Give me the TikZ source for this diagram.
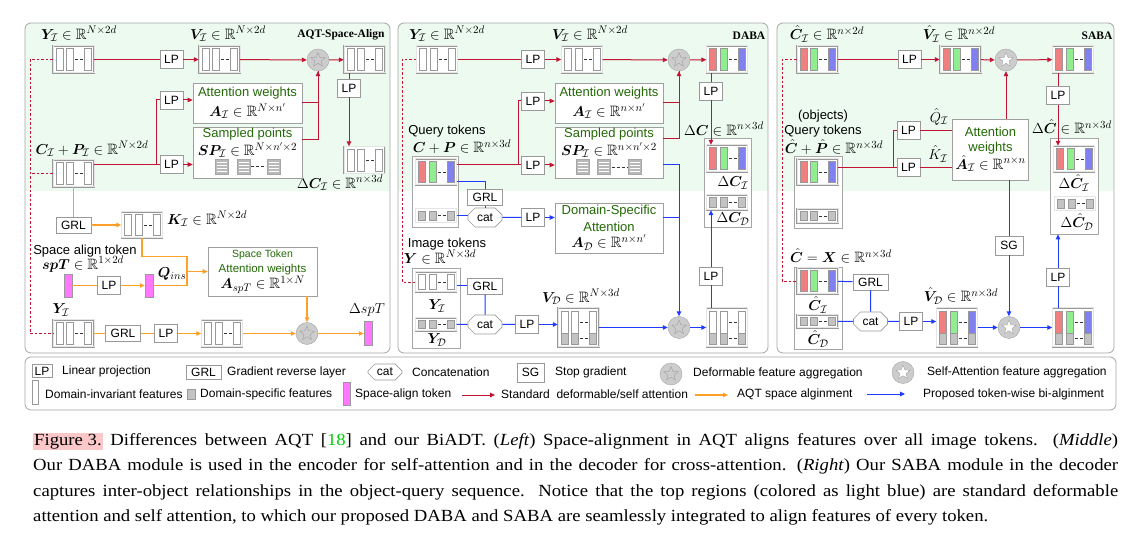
\documentclass[tikz,border=0pt]{standalone}
\usepackage{amsmath,amssymb,bm}
\usepackage{fontspec}
\setmainfont{Liberation Serif}
\newfontfamily\lsans{Liberation Sans}
\newfontfamily\capfont[FakeStretch=1.1]{Liberation Serif}
\usetikzlibrary{arrows.meta,shapes.geometric,shapes.misc}

\definecolor{bggreen}{RGB}{236,250,240}
\definecolor{lnred}{RGB}{192,20,50}
\definecolor{lnora}{RGB}{255,160,40}
\definecolor{lnblue}{RGB}{30,60,255}
\definecolor{txgreen}{RGB}{35,105,5}
\definecolor{tkred}{RGB}{240,128,128}
\definecolor{tkgreen}{RGB}{144,238,144}
\definecolor{tkblue}{RGB}{128,128,240}
\definecolor{tkgray}{RGB}{195,195,195}
\definecolor{tkpink}{RGB}{255,120,255}
\definecolor{hlpink}{RGB}{250,200,200}
\definecolor{refgreen}{RGB}{0,210,0}

\tikzset{
  panel/.style={draw=gray!70, line width=0.8pt, rounded corners=6pt},
  tokframe/.style={draw=gray!80, double=gray!20, double distance=1pt, fill=white, minimum width=41pt, inner sep=0},
  bar/.style={draw=gray!80, line width=0.5pt},
  tkdash/.style={draw=black!80, line width=0.5pt, dash pattern=on 3pt off 2pt},
  box/.style={draw=gray!80, fill=white, inner sep=0, line width=0.7pt, font=\lsans\fontsize{12}{14}\selectfont},
  lp/.style={box, minimum width=23pt, minimum height=18pt},
  grl/.style={box, minimum width=35pt, minimum height=16pt},
  sg/.style={box, minimum width=28pt, minimum height=19pt},
  cat/.style={box, chamfered rectangle, chamfered rectangle xsep=4pt, minimum width=34pt, minimum height=19pt},
  cont/.style={draw=gray!70, fill=white, inner sep=0, line width=0.7pt},
  att/.style={draw=gray!75, fill=white, inner sep=0, align=center, line width=0.7pt},
  mlab/.style={inner sep=0, font=\fontsize{15}{17}\selectfont},
  slab/.style={inner sep=0, font=\lsans\fontsize{13}{15}\selectfont},
  ttl/.style={inner sep=0, font=\bfseries\fontsize{11.5}{13}\selectfont},
  leg/.style={anchor=west, inner sep=0, font=\lsans\fontsize{12}{14}\selectfont},
  aggc/.style={circle, draw=gray!70, fill=gray!40, minimum size=22pt, inner sep=0},
  aggs/.style={star, star points=5, star point ratio=2.3, draw=gray!75, minimum size=15pt, inner sep=0},
  ra/.style={draw=lnred, line width=1pt},
  rarr/.style={ra, -{Triangle[length=5pt,width=4.5pt]}},
  rdash/.style={draw=lnred, line width=0.8pt, dash pattern=on 2.5pt off 2pt},
  oa/.style={draw=lnora, line width=1.1pt},
  oarr/.style={oa, -{Triangle[length=5pt,width=4.5pt]}},
  ba/.style={draw=lnblue, line width=1pt},
  barr/.style={ba, -{Triangle[length=5pt,width=4.5pt]}},
}

% token sequence: name, x, y, height, three bar colours
\newcommand{\tok}[7]{%
  \node[tokframe, minimum height=#4pt] (#1) at (#2,#3) {};
  \draw[bar, fill=#5] ({#2-17.5},{#3-#4/2+2.5}) rectangle ({#2-10.5},{#3+#4/2-2.5});
  \draw[bar, fill=#6] ({#2-7},{#3-#4/2+2.5}) rectangle ({#2},{#3+#4/2-2.5});
  \draw[bar, fill=#7] ({#2+11},{#3-#4/2+2.5}) rectangle ({#2+18},{#3+#4/2-2.5});
  \draw[tkdash] ({#2+1.5},#3) -- ({#2+10},#3);
}
% mixed invariant/specific tokens
\newcommand{\mix}[6]{%
  \node[tokframe, minimum height=39pt] (#1) at (#2,#3) {};
  \foreach \dx/\bc in {-17.5/#4,-7/#5,11/#6}{
    \draw[bar, fill=\bc] ({#2+\dx},{#3-16.5}) rectangle ({#2+\dx+7},{#3+5.5});
    \draw[bar, fill=tkgray] ({#2+\dx},{#3+5.5}) rectangle ({#2+\dx+7},{#3+16.5});}
  \draw[tkdash] ({#2+1.5},{#3-5.5}) -- ({#2+10},{#3-5.5});
  \draw[tkdash] ({#2+1.5},{#3+11}) -- ({#2+10},{#3+11});
}
\newcommand{\hatch}[2]{%
  \draw[draw=gray!70, fill=gray!55] ({#1-6.5},{#2-7.5}) rectangle ({#1+6.5},{#2+7.5});
  \foreach \k in {-4.5,-1.5,1.5,4.5}
    \draw[white, line width=0.6pt] ({#1-5},{#2+\k}) -- ({#1+5},{#2+\k});
}
\newcommand{\defstar}[3]{\node[aggc] (#1) at (#2,#3) {}; \node[aggs, fill=gray!40] (#1s) at (#1) {};}
\newcommand{\selfstar}[3]{\node[aggc] (#1) at (#2,#3) {}; \node[aggs, fill=white] (#1s) at (#1) {};}
\newcommand{\gt}[1]{{\lsans\color{txgreen}#1}}

\begin{document}
\begin{tikzpicture}[x=1pt, y=-1pt]
\useasboundingbox[fill=white] (0,0) rectangle (1141,537);

% panels
\foreach \xa/\xb in {25/390, 398/768, 777/1114}{
  \begin{scope}
    \clip[rounded corners=6pt] (\xa,23) rectangle (\xb,353);
    \fill[bggreen] (\xa,23) rectangle (\xb,191);
  \end{scope}
  \draw[panel] (\xa,23) rectangle (\xb,353);}

%%%% left: AQT
\tok{lY}{73.5}{59.5}{27}{white}{white}{white}
\node[mlab] (lYlab) at (79,34) {$\bm{Y}_{\mathcal I}\in\mathbb{R}^{N\times 2d}$};
\node[lp] (lLP1) at (171.5,59.5) {LP};
\tok{lV}{219.5}{59.5}{27}{white}{white}{white}
\node[mlab] (lVlab) at (228,34) {$\bm{V}_{\mathcal I}\in\mathbb{R}^{N\times 2d}$};
\defstar{lS1}{318}{60}
\tok{lO}{364.5}{59.5}{27}{white}{white}{white}
\node[ttl] (lTitle) at (341,35) {AQT-Space-Align};
\node[lp] (lLP4) at (349,88) {LP};
\tok{lDC}{364.5}{160}{27}{white}{white}{white}
\node[mlab] (lDClab) at (340,183) {$\Delta\bm{C}_{\mathcal I}\in\mathbb{R}^{n\times 3d}$};
\node[att, minimum width=109pt, minimum height=40pt, font=\fontsize{15}{20}\selectfont] (lA) at (247.5,103)
  {\gt{\fontsize{13}{20}\selectfont Attention weights}\\$\bm{A}_{\mathcal I}\in\mathbb{R}^{N\times n'}$};
\node[att, minimum width=109pt, minimum height=51pt] (lSP) at (247.5,152.5) {};
\node[slab] (lSPt) at (247.5,134) {\gt{Sampled points}};
\node[mlab] (lSPm) at (247.5,150) {$\bm{SP}_{\mathcal I}\in\mathbb{R}^{N\times n'\times 2}$};
\hatch{221.5}{166.5} \hatch{243.5}{166.5} \hatch{273.5}{166.5}
\draw[tkdash] (251,166.5) -- (266,166.5);
\node[lp] (lLP2) at (171.5,100) {LP};
\node[lp] (lLP3) at (171.5,164.5) {LP};
\node[mlab] (lClab) at (92,149) {$\bm{C}_{\mathcal I}+\bm{P}_{\mathcal I}\in\mathbb{R}^{N\times 2d}$};
\tok{lC}{73.5}{173.5}{27}{white}{white}{white}

\node[grl] (lGRL) at (73.5,225) {GRL};
\tok{lK}{142}{225}{26}{white}{white}{white}
\node[mlab, anchor=west] (lKlab) at (167,219) {$\bm{K}_{\mathcal I}\in\mathbb{R}^{N\times 2d}$};
\node[slab] (lSat) at (85,251) {Space align token};
\node[mlab] (lspTlab) at (83,264) {$\bm{spT}\in\mathbb{R}^{1\times 2d}$};
\node[draw=gray!80, fill=tkpink, minimum width=8pt, minimum height=23pt, inner sep=0] (lspT) at (68,285.5) {};
\node[lp] (lLP5) at (109,285.5) {LP};
\node[draw=gray!80, fill=tkpink, minimum width=8pt, minimum height=23pt, inner sep=0] (lQ) at (149,285.5) {};
\node[mlab] (lQlab) at (172,274) {$\bm{Q}_{ins}$};
\node[att, minimum width=109pt, minimum height=49pt, font=\fontsize{15}{15}\selectfont] (lST) at (262.5,271.5)
  {\gt{\fontsize{10.5}{15}\selectfont Space Token}\\\gt{\fontsize{11.5}{15}\selectfont Attention weights}\\$\bm{A}_{spT}\in\mathbb{R}^{1\times N}$};
\node[mlab] (lY2lab) at (61,310) {$\bm{Y}_{\mathcal I}$};
\tok{lY2}{73.5}{333.5}{27}{white}{white}{white}
\node[grl] (lGRL2) at (123,333.5) {GRL};
\node[lp] (lLP6) at (166,333.5) {LP};
\tok{lYo}{222}{333.5}{27}{white}{white}{white}
\defstar{lS2}{307}{333.5}
\node[draw=gray!80, fill=tkpink, minimum width=8pt, minimum height=24pt, inner sep=0] (lDs) at (368,333.5) {};
\node[mlab] (lDslab) at (367,310) {$\Delta spT$};

\draw[ra] (lY) -- (lLP1);
\draw[rarr] (lLP1) -- (lV);
\draw[rarr] (lV) -- (lS1);
\draw[rarr] (lS1) -- (lO);
\draw[ra] (lLP4 |- lO.south) -- (lLP4);
\draw[rarr] (lLP4) -- (lLP4 |- lDC.north);
\coordinate (lJ1) at (156,164.5);
\draw[ra] (lC.east |- lJ1) -- (lLP3);
\draw[ra] (lJ1) |- (lLP2);
\draw[rarr] (lLP2) -- (lA.west |- lLP2);
\draw[rarr] (lLP3) -- (lSP.west |- lLP3);
\draw[rarr] (lA) -| (lS1);
\draw[ra] ([yshift=12.5pt]lSP.east) -| (lS1);
\coordinate (lDash) at (30,59.5);
\draw[rdash] (lY.west) -- (lDash) |- (lY2.west);
\draw[rdash] (lC.west) -- (lDash |- lC.west);
\draw[oa] (lC.south) -- (lGRL);
\draw[oarr] (lGRL) -- (lK);
\coordinate (lJ2) at (187,271.5);
\draw[oa] (lK.south) |- ([yshift=15pt]lJ2) -- (lJ2);
\draw[oa] (lQ) -| (lJ2);
\draw[oarr] (lJ2) -- (lST);
\draw[oa] (lspT) -- (lLP5);
\draw[oarr] (lLP5) -- (lQ);
\draw[oa] (lY2) -- (lGRL2);
\draw[oa] (lGRL2) -- (lLP6);
\draw[oarr] (lLP6) -- (lYo);
\draw[oarr] (lYo) -- (lS2);
\draw[oarr] (lS2) -- (lDs);
\draw[oarr] (lS2 |- lST.south) -- (lS2);

%%%% middle: DABA
\tok{mY}{437}{59.5}{27}{white}{white}{white}
\node[mlab] (mYlab) at (447,34) {$\bm{Y}_{\mathcal I}\in\mathbb{R}^{N\times 2d}$};
\node[lp] (mLP1) at (533,59.5) {LP};
\tok{mV}{582}{59.5}{27}{white}{white}{white}
\node[mlab] (mVlab) at (590,34) {$\bm{V}_{\mathcal I}\in\mathbb{R}^{N\times 2d}$};
\defstar{mS1}{679}{60}
\tok{mO}{727}{59.5}{27}{tkred}{tkgreen}{tkblue}
\node[ttl] (mTitle) at (749,36) {DABA};
\node[lp] (mLP4) at (711,91) {LP};
\node[att, minimum width=108pt, minimum height=40pt, font=\fontsize{15}{20}\selectfont] (mA) at (609,103)
  {\gt{\fontsize{13}{20}\selectfont Attention weights}\\$\bm{A}_{\mathcal I}\in\mathbb{R}^{n\times n'}$};
\node[att, minimum width=108pt, minimum height=51pt] (mSP) at (609,152.5) {};
\node[slab] (mSPt) at (609,134) {\gt{Sampled points}};
\node[mlab] (mSPm) at (609,150) {$\bm{SP}_{\mathcal I}\in\mathbb{R}^{n\times n'\times 2}$};
\hatch{582.5}{167} \hatch{604}{167} \hatch{635}{167}
\draw[tkdash] (611.5,167) -- (627.5,167);
\node[lp] (mLP2) at (533,101) {LP};
\node[lp] (mLP3) at (533,165) {LP};
\node[slab] (mQt) at (447,131) {Query tokens};
\node[mlab] (mQlab) at (462,147) {$\bm{C}+\bm{P}\in\mathbb{R}^{n\times 3d}$};
\node[cont, minimum width=46pt, minimum height=71pt] (mQc) at (435,191.5) {};
\tok{mQ}{436}{172}{26}{tkred}{tkgreen}{tkblue}
\tok{mQd}{436}{215.5}{14}{tkgray}{tkgray}{tkgray}
\node[mlab] (mDClab) at (724,129) {$\Delta\bm{C}\in\mathbb{R}^{n\times 3d}$};
\node[cont, minimum width=47pt, minimum height=89pt] (mDCc) at (727.5,182.5) {};
\tok{mDC}{727}{158.5}{27}{tkred}{tkgreen}{tkblue}
\node[mlab] (mDCi) at (733,183) {$\Delta\bm{C}_{\mathcal I}$};
\tok{mDCd}{727}{202.5}{15}{tkgray}{tkgray}{tkgray}
\node[mlab] (mDCdl) at (733,219) {$\Delta\bm{C}_{\mathcal D}$};
\node[grl] (mGRL) at (485,197.5) {GRL};
\node[cat] (mcat) at (485,217.5) {cat};
\node[lp] (mLP5) at (533,217.5) {LP};
\node[att, minimum width=108pt, minimum height=50pt, font=\fontsize{15}{16.5}\selectfont] (mDSA) at (609,228)
  {\gt{\fontsize{13}{16.5}\selectfont Domain-Specific}\\\gt{\fontsize{13}{16.5}\selectfont Attention}\\$\bm{A}_{\mathcal D}\in\mathbb{R}^{n\times n'}$};
\node[slab] (mIt) at (447,244) {Image tokens};
\node[mlab] (mIlab) at (440,257) {$\bm{Y}\in\mathbb{R}^{N\times 3d}$};
\node[cont, minimum width=48pt, minimum height=80pt] (mIc) at (436,308) {};
\tok{mYi}{436}{282}{20}{white}{white}{white}
\node[mlab] (mYil) at (437,306) {$\bm{Y}_{\mathcal I}$};
\tok{mYd}{436}{324.5}{13}{tkgray}{tkgray}{tkgray}
\node[mlab] (mYdl) at (437,340) {$\bm{Y}_{\mathcal D}$};
\node[grl] (mGRL2) at (485,286) {GRL};
\node[cat] (mcat2) at (485,324.5) {cat};
\node[lp] (mLP6) at (527,324.5) {LP};
\mix{mVD}{578.5}{327.5}{white}{white}{white}
\node[mlab] (mVDlab) at (581,297) {$\bm{V}_{\mathcal D}\in\mathbb{R}^{N\times 3d}$};
\defstar{mS2}{679}{327.5}
\mix{mO2}{727}{327.5}{white}{white}{white}
\node[lp] (mLP7) at (711,276) {LP};

\draw[ra] (mY) -- (mLP1);
\draw[rarr] (mLP1) -- (mV);
\draw[rarr] (mV) -- (mS1);
\draw[rarr] (mS1) -- (mO);
\draw[ra] (mLP4 |- mO.south) -- (mLP4);
\draw[rarr] (mLP4) -- (mLP4 |- mDC.north);
\coordinate (mJ) at (518,165);
\draw[ra] (mQ.east |- mJ) -- (mLP3);
\draw[ra] (mJ) |- (mLP2);
\draw[rarr] (mLP2) -- (mA.west |- mLP2);
\draw[rarr] (mLP3) -- (mSP.west |- mLP3);
\draw[rarr] (mA) -| (mS1);
\draw[ra] ([yshift=13.5pt]mSP.east) -| (mS1);
\coordinate (mDash) at (402,59.5);
\draw[rdash] (mY.west) -- (mDash) |- (mYi.west);
\draw[ba] ([yshift=-10pt]mQ.east) -| (mGRL);
\draw[ba] (mGRL) -- (mcat);
\draw[ba] (mQd.east) -- (mcat.west |- mQd.east);
\draw[ba] (mcat) -- (mLP5);
\draw[barr] (mLP5) -- (mDSA.west |- mLP5);
\draw[barr] ([yshift=-12.5pt]mSP.east) -| (mS2);
\draw[ba] ([yshift=10pt]mDSA.east) -- ([yshift=10pt]mDSA.east -| mS2);
\draw[ba] (mYi.east |- mGRL2) -- (mGRL2);
\draw[ba] (mGRL2) -- (mcat2);
\draw[ba] (mYd) -- (mcat2);
\draw[ba] (mcat2) -- (mLP6);
\draw[barr] (mLP6) -- (mVD.west |- mLP6);
\draw[barr] (mVD) -- (mS2);
\draw[barr] (mS2) -- (mO2);
\draw[ba] (mLP7 |- mO2.north) -- (mLP7);
\draw[barr] (mLP7) -- (mLP7 |- mDCd.south);

%%%% right: SABA
\tok{rC}{817.5}{59.5}{27}{tkred}{tkgreen}{tkblue}
\node[mlab] (rClab) at (827,34) {$\hat{\bm{C}}_{\mathcal I}\in\mathbb{R}^{n\times 2d}$};
\node[lp] (rLP1) at (909.5,59.5) {LP};
\tok{rV}{960.5}{59.5}{27}{tkred}{tkgreen}{tkblue}
\node[mlab] (rVlab) at (959,34) {$\hat{\bm{V}}_{\mathcal I}\in\mathbb{R}^{n\times 2d}$};
\selfstar{rS1}{1006}{60}
\tok{rO}{1073}{59.5}{27}{tkred}{tkgreen}{tkblue}
\node[ttl] (rTitle) at (1097,36) {SABA};
\node[lp] (rLP4) at (1058,95.5) {LP};
\node[att, minimum width=76pt, minimum height=61pt, font=\fontsize{15}{15}\selectfont] (rA) at (990.5,149.5)
  {\gt{\fontsize{13}{15}\selectfont Attention}\\\gt{\fontsize{13}{15}\selectfont weights}\\$\hat{\bm{A}}_{\mathcal I}\in\mathbb{R}^{n\times n}$};
\node[slab] (rObj) at (823,116) {(objects)};
\node[slab] (rQt) at (823,131) {Query tokens};
\node[mlab] (rQlab) at (834,147) {$\hat{\bm{C}}+\hat{\bm{P}}\in\mathbb{R}^{n\times 3d}$};
\node[cont, minimum width=48pt, minimum height=72pt] (rQc) at (818,192) {};
\tok{rQ}{817.5}{172}{26}{tkred}{tkgreen}{tkblue}
\tok{rQd}{817.5}{216}{14}{tkgray}{tkgray}{tkgray}
\node[lp] (rLP2) at (908.5,130.5) {LP};
\node[lp] (rLP3) at (908.5,167.5) {LP};
\node[mlab] (rQh) at (939,117) {$\hat{Q}_{\mathcal I}$};
\node[mlab] (rKh) at (938,154) {$\hat{K}_{\mathcal I}$};
\node[mlab] (rDClab) at (1072,127) {$\Delta\hat{\bm{C}}\in\mathbb{R}^{n\times 3d}$};
\node[cont, minimum width=48pt, minimum height=96pt] (rDCc) at (1074,186) {};
\tok{rDC}{1074}{159}{26}{tkred}{tkgreen}{tkblue}
\node[mlab] (rDCi) at (1074,183) {$\Delta\hat{\bm{C}}_{\mathcal I}$};
\tok{rDCd}{1075}{203.5}{14}{tkgray}{tkgray}{tkgray}
\node[mlab] (rDCdl) at (1077,222) {$\Delta\hat{\bm{C}}_{\mathcal D}$};
\node[sg] (rSG) at (1009,245.5) {SG};
\node[mlab] (rXlab) at (841,256) {$\hat{\bm{C}}=\bm{X}\in\mathbb{R}^{n\times 3d}$};
\node[cont, minimum width=48pt, minimum height=82pt] (rCc) at (818,308) {};
\tok{rCi}{817.5}{281}{26}{tkred}{tkgreen}{tkblue}
\node[mlab] (rCil) at (818,305) {$\hat{\bm{C}}_{\mathcal I}$};
\tok{rCd}{817.5}{321.5}{13}{tkgray}{tkgray}{tkgray}
\node[mlab] (rCdl) at (818,339) {$\hat{\bm{C}}_{\mathcal D}$};
\node[grl] (rGRL) at (870.5,282) {GRL};
\node[cat] (rcat) at (870.5,321.5) {cat};
\node[lp] (rLP5) at (911,321.5) {LP};
\mix{rVD}{957}{327.5}{tkred}{tkgreen}{tkblue}
\node[mlab] (rVDlab) at (961,296) {$\hat{\bm{V}}_{\mathcal D}\in\mathbb{R}^{n\times 3d}$};
\selfstar{rS2}{1009}{327.5}
\mix{rO2}{1073}{327.5}{tkred}{tkgreen}{tkblue}
\node[lp] (rLP6) at (1058,277) {LP};

\draw[ra] (rC) -- (rLP1);
\draw[rarr] (rLP1) -- (rV);
\draw[rarr] (rV) -- (rS1);
\draw[rarr] (rS1) -- (rO);
\draw[ra] (rLP4 |- rO.south) -- (rLP4);
\draw[rarr] (rLP4) -- (rLP4 |- rDC.north);
\coordinate (rJ) at (893,167.5);
\draw[ra] (rQ.east |- rJ) -- (rLP3);
\draw[ra] (rJ) |- (rLP2);
\draw[ra] (rLP2) -- (rA.west |- rLP2);
\draw[ra] (rLP3) -- (rA.west |- rLP3);
\draw[rarr] (rS1.south |- rA.north) -- (rS1.south);
\coordinate (rDash) at (782,59.5);
\draw[rdash] (rC.west) -- (rDash) |- (rCi.west);
\draw[ba] (rSG |- rA.south) -- (rSG);
\draw[barr] (rSG) -- (rS2);
\draw[ba] (rCi) -- (rGRL);
\draw[ba] (rGRL) -- (rcat);
\draw[ba] (rCd) -- (rcat);
\draw[ba] (rcat) -- (rLP5);
\draw[barr] (rLP5) -- (rVD.west |- rLP5);
\draw[barr] (rVD) -- (rS2);
\draw[barr] (rS2) -- (rO2);
\draw[ba] (rLP6 |- rO2.north) -- (rLP6);
\draw[barr] (rLP6) -- (rLP6 |- rDCc.south);

%%%% legend
\draw[panel] (25,357) rectangle (1116,410);
\node[lp, minimum width=20pt, minimum height=13pt] (gLP) at (42,371) {LP};
\node[leg] (gLPt) at (62,371) {Linear projection};
\node[grl, minimum height=14pt] (gGRL) at (203.5,372) {GRL};
\node[leg] (gGRLt) at (227,372) {Gradient reverse layer};
\node[cat, minimum height=16pt] (gcat) at (385,372) {cat};
\node[leg] (gcatt) at (412,372) {Concatenation};
\node[sg, minimum width=27pt] (gSG) at (530.5,372.5) {SG};
\node[leg] (gSGt) at (555,372) {Stop gradient};
\defstar{gS1}{671}{374}
\node[leg] (gS1t) at (693,373) {Deformable feature aggregation};
\selfstar{gS2}{903}{372.5}
\node[leg] (gS2t) at (927,372) {Self-Attention feature aggregation};
\node[bar, fill=white, minimum width=6pt, minimum height=24pt, inner sep=0] (gW) at (35,392) {};
\node[leg] (gWt) at (45,394) {Domain-invariant features};
\node[bar, fill=tkgray, minimum width=8pt, minimum height=10pt, inner sep=0] (gG) at (191,394) {};
\node[leg] (gGt) at (200,394) {Domain-specific features};
\node[bar, fill=tkpink, minimum width=7pt, minimum height=23pt, inner sep=0] (gP) at (346.5,393.5) {};
\node[leg] (gPt) at (355,394) {Space-align token};
\coordinate (gR1) at (462,395); \coordinate (gR2) at (495,395);
\draw[rarr] (gR1) -- (gR2);
\node[leg] (gRt) at (501,394) {Standard\ \ deformable/self attention};
\coordinate (gO1) at (695,395); \coordinate (gO2) at (728,395);
\draw[oarr] (gO1) -- (gO2);
\node[leg] (gOt) at (737,394) {AQT space alginment};
\coordinate (gB1) at (867,394); \coordinate (gB2) at (905,394);
\draw[barr] (gB1) -- (gB2);
\node[leg] (gBt) at (923,394) {Proposed token-wise bi-alginment};

%%%% caption
\node[anchor=north west, inner sep=0, text width=1085pt, align=justify, font=\capfont\fontsize{17}{25.5}\selectfont] (cap) at (33,433)
  {{\setlength{\fboxsep}{1pt}\colorbox{hlpink}{Figure 3.}} Differences between AQT [\textcolor{refgreen}{18}] and our BiADT. (\textit{Left}) Space-alignment in AQT aligns features over all image tokens. (\textit{Middle})\linebreak
  Our DABA module is used in the encoder for self-attention and in the decoder for cross-attention. (\textit{Right}) Our SABA module in the decoder\linebreak
  captures inter-object relationships in the object-query sequence. Notice that the top regions (colored as light blue) are standard deformable\linebreak
  attention and self attention, to which our proposed DABA and SABA are seamlessly integrated to align features of every token.};
\end{tikzpicture}
\end{document}
